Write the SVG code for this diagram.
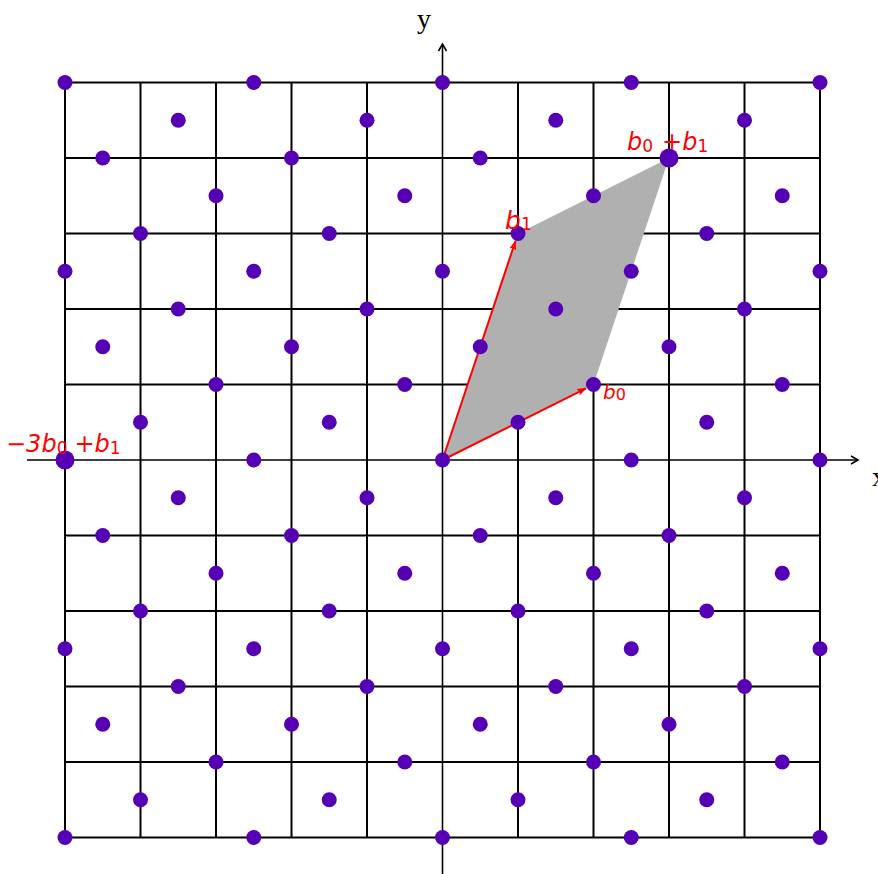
<svg xmlns="http://www.w3.org/2000/svg" width="878" height="874" viewBox="0 0 878 874">
<style>
.grid line{stroke:#000;stroke-width:2}
.axis{stroke:#000;stroke-width:1.6;fill:none}
.pt{fill:#5500b4}
.vec{stroke:#ff0000;stroke-width:2;fill:none}
.lbl{font-family:"DejaVu Sans",sans-serif;fill:#ff0000}
.it{font-style:italic}
.ax{font-family:"Liberation Serif","DejaVu Serif",serif;font-size:28px;fill:#000}
</style>
<defs>
<marker id="ah" viewBox="0 0 10 8" refX="9" refY="4" markerWidth="10" markerHeight="8" orient="auto" markerUnits="userSpaceOnUse">
<path d="M0,0.5 L10,4 L0,7.5 L2,4 Z" fill="#ff0000"/>
</marker>
</defs>
<rect width="878" height="874" fill="#fff"/>
<g id="grid" class="grid">
<line x1="65" y1="82.5" x2="65" y2="837.5"/>
<line x1="140.5" y1="82.5" x2="140.5" y2="837.5"/>
<line x1="216" y1="82.5" x2="216" y2="837.5"/>
<line x1="291.5" y1="82.5" x2="291.5" y2="837.5"/>
<line x1="367" y1="82.5" x2="367" y2="837.5"/>
<line x1="518" y1="82.5" x2="518" y2="837.5"/>
<line x1="593.5" y1="82.5" x2="593.5" y2="837.5"/>
<line x1="669" y1="82.5" x2="669" y2="837.5"/>
<line x1="744.5" y1="82.5" x2="744.5" y2="837.5"/>
<line x1="820" y1="82.5" x2="820" y2="837.5"/>
<line x1="65" y1="82.5" x2="820" y2="82.5"/>
<line x1="65" y1="158" x2="820" y2="158"/>
<line x1="65" y1="233.5" x2="820" y2="233.5"/>
<line x1="65" y1="309" x2="820" y2="309"/>
<line x1="65" y1="384.5" x2="820" y2="384.5"/>
<line x1="65" y1="535.5" x2="820" y2="535.5"/>
<line x1="65" y1="611" x2="820" y2="611"/>
<line x1="65" y1="686.5" x2="820" y2="686.5"/>
<line x1="65" y1="762" x2="820" y2="762"/>
<line x1="65" y1="837.5" x2="820" y2="837.5"/>
</g>
<g id="axes">
<line class="axis" x1="27" y1="460" x2="858" y2="460"/>
<polyline class="axis" points="851,456 858,460 851,464"/>
<line class="axis" x1="442.5" y1="874" x2="442.5" y2="44"/>
<polyline class="axis" points="438.5,51 442.5,44 446.5,51"/>
<text class="ax" x="872" y="486">x</text>
<text class="ax" x="417" y="28">y</text>
</g>
<g id="cell">
<polygon points="442.5,460 593.5,384.5 669,158 518,233.5" fill="#b0b0b0"/>
</g>
<g id="connectors">
<line class="vec" x1="442.5" y1="460" x2="586" y2="388.3" marker-end="url(#ah)"/>
<line class="vec" x1="442.5" y1="460" x2="515.5" y2="241" marker-end="url(#ah)"/>
</g>
<g id="points">
<g id="row10"><circle class="pt" cx="65" cy="82.5" r="7.5"/><circle class="pt" cx="253.75" cy="82.5" r="7.5"/><circle class="pt" cx="442.5" cy="82.5" r="7.5"/><circle class="pt" cx="631.25" cy="82.5" r="7.5"/><circle class="pt" cx="820" cy="82.5" r="7.5"/></g>
<g id="row9"><circle class="pt" cx="178.25" cy="120.25" r="7.5"/><circle class="pt" cx="367" cy="120.25" r="7.5"/><circle class="pt" cx="555.75" cy="120.25" r="7.5"/><circle class="pt" cx="744.5" cy="120.25" r="7.5"/></g>
<g id="row8"><circle class="pt" cx="102.75" cy="158" r="7.5"/><circle class="pt" cx="291.5" cy="158" r="7.5"/><circle class="pt" cx="480.25" cy="158" r="7.5"/><circle class="pt" cx="669" cy="158" r="9.5"/></g>
<g id="row7"><circle class="pt" cx="216" cy="195.75" r="7.5"/><circle class="pt" cx="404.75" cy="195.75" r="7.5"/><circle class="pt" cx="593.5" cy="195.75" r="7.5"/><circle class="pt" cx="782.25" cy="195.75" r="7.5"/></g>
<g id="row6"><circle class="pt" cx="140.5" cy="233.5" r="7.5"/><circle class="pt" cx="329.25" cy="233.5" r="7.5"/><circle class="pt" cx="518" cy="233.5" r="7.5"/><circle class="pt" cx="706.75" cy="233.5" r="7.5"/></g>
<g id="row5"><circle class="pt" cx="65" cy="271.25" r="7.5"/><circle class="pt" cx="253.75" cy="271.25" r="7.5"/><circle class="pt" cx="442.5" cy="271.25" r="7.5"/><circle class="pt" cx="631.25" cy="271.25" r="7.5"/><circle class="pt" cx="820" cy="271.25" r="7.5"/></g>
<g id="row4"><circle class="pt" cx="178.25" cy="309" r="7.5"/><circle class="pt" cx="367" cy="309" r="7.5"/><circle class="pt" cx="555.75" cy="309" r="7.5"/><circle class="pt" cx="744.5" cy="309" r="7.5"/></g>
<g id="row3"><circle class="pt" cx="102.75" cy="346.75" r="7.5"/><circle class="pt" cx="291.5" cy="346.75" r="7.5"/><circle class="pt" cx="480.25" cy="346.75" r="7.5"/><circle class="pt" cx="669" cy="346.75" r="7.5"/></g>
<g id="row2"><circle class="pt" cx="216" cy="384.5" r="7.5"/><circle class="pt" cx="404.75" cy="384.5" r="7.5"/><circle class="pt" cx="593.5" cy="384.5" r="7.5"/><circle class="pt" cx="782.25" cy="384.5" r="7.5"/></g>
<g id="row1"><circle class="pt" cx="140.5" cy="422.25" r="7.5"/><circle class="pt" cx="329.25" cy="422.25" r="7.5"/><circle class="pt" cx="518" cy="422.25" r="7.5"/><circle class="pt" cx="706.75" cy="422.25" r="7.5"/></g>
<g id="row0"><circle class="pt" cx="65" cy="460" r="9.5"/><circle class="pt" cx="253.75" cy="460" r="7.5"/><circle class="pt" cx="442.5" cy="460" r="7.5"/><circle class="pt" cx="631.25" cy="460" r="7.5"/><circle class="pt" cx="820" cy="460" r="7.5"/></g>
<g id="rowm1"><circle class="pt" cx="178.25" cy="497.75" r="7.5"/><circle class="pt" cx="367" cy="497.75" r="7.5"/><circle class="pt" cx="555.75" cy="497.75" r="7.5"/><circle class="pt" cx="744.5" cy="497.75" r="7.5"/></g>
<g id="rowm2"><circle class="pt" cx="102.75" cy="535.5" r="7.5"/><circle class="pt" cx="291.5" cy="535.5" r="7.5"/><circle class="pt" cx="480.25" cy="535.5" r="7.5"/><circle class="pt" cx="669" cy="535.5" r="7.5"/></g>
<g id="rowm3"><circle class="pt" cx="216" cy="573.25" r="7.5"/><circle class="pt" cx="404.75" cy="573.25" r="7.5"/><circle class="pt" cx="593.5" cy="573.25" r="7.5"/><circle class="pt" cx="782.25" cy="573.25" r="7.5"/></g>
<g id="rowm4"><circle class="pt" cx="140.5" cy="611" r="7.5"/><circle class="pt" cx="329.25" cy="611" r="7.5"/><circle class="pt" cx="518" cy="611" r="7.5"/><circle class="pt" cx="706.75" cy="611" r="7.5"/></g>
<g id="rowm5"><circle class="pt" cx="65" cy="648.75" r="7.5"/><circle class="pt" cx="253.75" cy="648.75" r="7.5"/><circle class="pt" cx="442.5" cy="648.75" r="7.5"/><circle class="pt" cx="631.25" cy="648.75" r="7.5"/><circle class="pt" cx="820" cy="648.75" r="7.5"/></g>
<g id="rowm6"><circle class="pt" cx="178.25" cy="686.5" r="7.5"/><circle class="pt" cx="367" cy="686.5" r="7.5"/><circle class="pt" cx="555.75" cy="686.5" r="7.5"/><circle class="pt" cx="744.5" cy="686.5" r="7.5"/></g>
<g id="rowm7"><circle class="pt" cx="102.75" cy="724.25" r="7.5"/><circle class="pt" cx="291.5" cy="724.25" r="7.5"/><circle class="pt" cx="480.25" cy="724.25" r="7.5"/><circle class="pt" cx="669" cy="724.25" r="7.5"/></g>
<g id="rowm8"><circle class="pt" cx="216" cy="762" r="7.5"/><circle class="pt" cx="404.75" cy="762" r="7.5"/><circle class="pt" cx="593.5" cy="762" r="7.5"/><circle class="pt" cx="782.25" cy="762" r="7.5"/></g>
<g id="rowm9"><circle class="pt" cx="140.5" cy="799.75" r="7.5"/><circle class="pt" cx="329.25" cy="799.75" r="7.5"/><circle class="pt" cx="518" cy="799.75" r="7.5"/><circle class="pt" cx="706.75" cy="799.75" r="7.5"/></g>
<g id="rowm10"><circle class="pt" cx="65" cy="837.5" r="7.5"/><circle class="pt" cx="253.75" cy="837.5" r="7.5"/><circle class="pt" cx="442.5" cy="837.5" r="7.5"/><circle class="pt" cx="631.25" cy="837.5" r="7.5"/><circle class="pt" cx="820" cy="837.5" r="7.5"/></g>
</g>
<g id="labels">
<text class="lbl" font-size="24" x="627" y="150"><tspan class="it">b</tspan><tspan font-size="17" dy="2">0</tspan><tspan dx="9" dy="-2">+</tspan><tspan class="it">b</tspan><tspan font-size="17" dy="2">1</tspan></text>
<text class="lbl" font-size="24" x="6" y="452"><tspan>−</tspan><tspan class="it">3</tspan><tspan class="it">b</tspan><tspan font-size="17" dy="2">0</tspan><tspan dx="7" dy="-2">+</tspan><tspan class="it">b</tspan><tspan font-size="17" dy="2">1</tspan></text>
<text class="lbl" font-size="25" x="505" y="229"><tspan class="it">b</tspan><tspan font-size="17" dy="1">1</tspan></text>
<text class="lbl" font-size="20" x="603" y="399"><tspan class="it">b</tspan><tspan font-size="16" dy="1">0</tspan></text>
</g>
</svg>
